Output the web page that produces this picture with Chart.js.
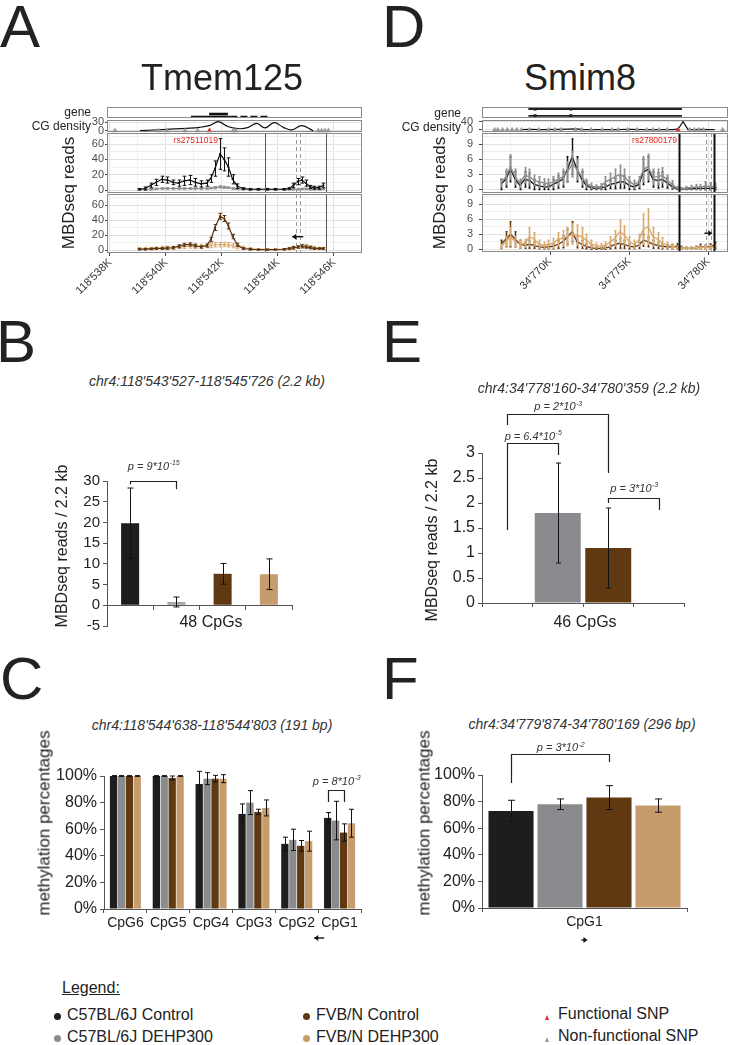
<!DOCTYPE html>
<html>
<head>
<meta charset="utf-8">
<title>Tmem125 / Smim8</title>
<script src="https://cdn.jsdelivr.net/npm/chart.js@4.4.1/dist/chart.umd.min.js"></script>
<style>
  html, body { margin: 0; padding: 0; background: #fff; }
  body { position: relative; width: 730px; height: 1045px; overflow: hidden;
         font-family: "Liberation Sans", Arial, Helvetica, sans-serif; color: #222; }
  canvas { position: absolute; }
  .t { position: absolute; white-space: nowrap; line-height: 1; }
</style>
</head>
<body>
<script>
// ---------------- data ----------------
const groups = ['C57BL/6J Control', 'C57BL/6J DEHP300', 'FVB/N Control', 'FVB/N DEHP300'];
const barColors = ['#1f1c1d', '#898b8e', '#603913', '#c69c6d'];
const trackColors = ['#111111', '#8e8e8e', '#5b3412', '#d9aa70'];
const snpLabels = ['Functional SNP', 'Non-functional SNP'];
const snpColors = ['#e3261f', '#9a9a9a'];

// A: Tmem125 MBDseq track (positions in kb, chr4:118'xxxK)
const tmPos = [539.05, 539.25, 539.45, 539.65, 539.85, 540.05, 540.25, 540.45, 540.65, 540.85,
  541.05, 541.25, 541.45, 541.6, 541.75, 541.93, 542.08, 542.23, 542.38, 542.55,
  542.75, 543.0, 543.3, 543.6, 543.9, 544.2, 544.4, 544.55, 544.7, 544.85,
  545.0, 545.15, 545.3, 545.45, 545.62];
const tmB6Ctrl = [1, 2, 6, 10, 14, 13, 10, 9, 12, 13, 10, 8, 9, 15, 28, 47, 40, 30, 14, 5,
  2, 1, 1, 1, 1, 1, 2, 6, 11, 13, 9, 4, 3, 3, 6];
const tmB6CtrlSd = [1, 2, 3, 4, 4, 4, 3, 4, 6, 6, 5, 4, 4, 5, 10, 20, 15, 12, 6, 3,
  1, 1, 1, 1, 1, 1, 1, 3, 4, 4, 4, 2, 2, 2, 3];
const tmB6Dehp = [1, 1, 1, 1.5, 2, 2, 2, 2, 2, 2, 2, 2, 2, 2.5, 3, 4, 3.5, 3, 2, 1.5,
  1, 1, 1, 1, 1, 1, 1, 1, 1, 1.5, 1.5, 1, 1, 1, 1.5];
const tmB6DehpSd = [1, 1, 1, 1, 1, 1, 1, 1, 1, 1, 1, 1, 1, 1, 1.5, 1.5, 1.5, 1, 1, 1,
  1, 1, 1, 1, 1, 1, 1, 1, 1, 1, 1, 1, 1, 1, 1];
const tmFvbCtrl = [1, 1, 1.5, 2, 2, 2.5, 3, 5, 7, 7.5, 6, 4, 6, 14, 30, 45, 42, 32, 18, 7,
  2, 1, 0.5, 0.5, 0.5, 1, 2, 3, 4, 5, 4, 3, 2, 2, 2];
const tmFvbCtrlSd = [1, 1, 1, 1, 1, 1.5, 1.5, 2, 2, 2, 2, 1.5, 2, 3, 4, 4, 4, 4, 3, 2,
  1, 1, 0.5, 0.5, 0.5, 1, 1, 1.5, 1.5, 2, 1.5, 1.5, 1, 1, 1];
const tmFvbDehp = [2, 2, 2, 2.5, 3, 3, 3, 4, 4.5, 5, 4.5, 5, 5.5, 6, 7, 7, 7.5, 7, 6, 4,
  3, 2, 1, 1, 1, 1, 2, 3, 4, 5, 5, 4, 3, 2, 2];
const tmFvbDehpSd = [1.5, 1.5, 1.5, 1.5, 2, 2, 2, 2, 2.5, 2.5, 2.5, 2.5, 2.5, 3, 3, 3, 3, 3, 3, 2.5,
  2, 1.5, 1, 1, 1, 1, 1.5, 2, 2, 2.5, 2.5, 2, 2, 1.5, 1.5];
const tmCgPos = [539.07, 540.02, 540.74, 541.2, 541.57, 541.87, 542.23, 542.64, 542.94, 543.24,
  543.54, 543.86, 544.19, 544.49, 544.85, 545.26];
const tmCg = [0, 5, 8.5, 12, 19, 32, 14, 7, 12, 26, 10, 29, 12, 3, 18, 0];
const tmSnps = [538.18, 539.73, 540.02, 540.68, 541.13, 542.4, 542.5, 545.44, 545.56, 545.68, 545.8];
const tmFuncSnp = [541.55];
const tmGeneSpan = [540.89, 542.3, 543.71];
const tmGeneExon = [541.54, 542.21];
const tmRegion = [543.527, 545.726];
const tmAmplicon = [544.638, 544.803];
const tmTickVals = [538, 540, 542, 544, 546];
const tmTickText = ["118'538K", "118'540K", "118'542K", "118'544K", "118'546K"];

// D: Smim8 MBDseq track (chr4:34'xxxK)
const smPos = [766.9, 767.2, 767.5, 767.8, 768.1, 768.4, 768.7, 769.0, 769.3, 769.6,
  769.9, 770.2, 770.5, 770.8, 771.1, 771.4, 771.7, 772.0, 772.3, 772.6,
  772.9, 773.2, 773.5, 773.8, 774.1, 774.4, 774.7, 775.0, 775.3, 775.6,
  775.9, 776.2, 776.5, 776.8, 777.1, 777.4, 777.7, 778.0, 778.3, 778.6,
  778.9, 779.2, 779.5, 779.8, 780.1, 780.4];
const smB6Ctrl = [1, 2, 4, 2, 0.8, 2, 1.8, 1, 0.7, 0.5, 0.5, 1, 1.5, 2, 4, 6.5, 4, 2, 0.8, 0.3,
  0.2, 0.3, 0.5, 1, 1.2, 1.5, 1.5, 0.8, 0.5, 1, 3.5, 4, 2, 1.8, 2, 1.3, 0.6, 0.1, 0.1, 0.1,
  0.1, 0.2, 0.2, 0.2, 0.2, 0.2];
const smB6CtrlSd = [1, 1.5, 2.5, 1.5, 0.8, 1.5, 1.5, 1, 0.7, 0.5, 0.5, 1, 1.2, 1.5, 2.5, 3.5, 2.5, 1.5, 0.8, 0.3,
  0.2, 0.3, 0.5, 0.8, 1, 1.2, 1.2, 0.8, 0.5, 0.8, 2.5, 2.5, 1.5, 1.5, 1.5, 1, 0.5, 0.1, 0.1, 0.1,
  0.1, 0.2, 0.2, 0.2, 0.2, 0.2];
const smB6Dehp = [1.3, 2.5, 4.5, 2.5, 1.2, 2.8, 2.5, 1.8, 1.5, 1.3, 1.2, 1.5, 2, 2.5, 3.5, 5, 4, 2.5, 1.2, 0.7,
  0.5, 0.6, 1.5, 2, 2.5, 3, 2.5, 1.5, 1, 1.5, 4, 4.5, 2.5, 2.5, 2.8, 1.8, 1, 0.3, 0.2, 0.3,
  0.4, 0.5, 0.5, 0.7, 0.6, 0.6];
const smB6DehpSd = [0.8, 1.5, 2.4, 1.5, 0.8, 1.5, 1.5, 1, 1, 0.8, 0.8, 1, 1.2, 1.5, 2, 2.5, 2, 1.5, 0.8, 0.5,
  0.4, 0.5, 1, 1.2, 1.5, 1.8, 1.5, 1, 0.8, 1, 2.5, 2.5, 1.5, 1.5, 1.5, 1, 0.7, 0.3, 0.2, 0.3,
  0.4, 0.5, 0.5, 0.8, 0.7, 0.6];
const smFvbCtrl = [1, 2, 3, 2, 1, 0.8, 1, 0.8, 0.5, 0.4, 0.5, 0.6, 1, 1.5, 2.5, 3.5, 1.5, 1, 0.6, 0.3,
  0.2, 0.2, 0.3, 0.5, 1, 1.2, 1, 0.6, 0.5, 0.8, 1.8, 1.5, 1, 0.8, 0.6, 0.5, 0.5, 0.6, 0.3, 0.2,
  0.2, 0.3, 0.5, 0.4, 0.6, 0.8];
const smFvbCtrlSd = [0.8, 1.5, 2.5, 1.5, 0.8, 0.6, 0.8, 0.6, 0.4, 0.3, 0.4, 0.5, 0.8, 1.2, 1.5, 2, 1.2, 0.8, 0.5, 0.3,
  0.2, 0.2, 0.3, 0.4, 0.8, 1, 0.8, 0.5, 0.4, 0.6, 1.2, 1, 0.8, 0.6, 0.5, 0.4, 0.4, 0.5, 0.3, 0.2,
  0.2, 0.3, 0.5, 0.4, 0.5, 0.6];
const smFvbDehp = [0.5, 1.5, 2.5, 1.5, 1, 1.2, 2.5, 2, 1, 0.8, 1, 1.2, 2, 2.2, 2.5, 3, 2.8, 2.5, 1.8, 1,
  0.7, 0.6, 0.8, 1.5, 2.2, 3.5, 2.8, 1.5, 1, 1.8, 4, 4.5, 2.5, 2, 1.3, 0.8, 0.6, 0.3, 0.2, 0.2,
  0.2, 0.3, 0.3, 0.4, 0.4, 0.5];
const smFvbDehpSd = [0.5, 1, 1.8, 1, 0.8, 0.8, 1.8, 1.3, 0.8, 0.6, 0.8, 1, 1.3, 1.5, 1.8, 2, 2, 1.8, 1.2, 0.8,
  0.5, 0.5, 0.6, 1, 1.5, 2.3, 1.8, 1, 0.8, 1.2, 3, 3.5, 1.8, 1.3, 1, 0.6, 0.5, 0.3, 0.2, 0.2,
  0.2, 0.3, 0.3, 0.4, 0.4, 0.4];
const smCgPos = [768.2, 768.7, 769.5, 770.5, 771.2, 771.6, 772.2, 773.0, 774.0, 775.0,
  776.0, 777.0, 777.8, 778.1, 778.4, 778.7, 779.0, 779.5, 780.0, 780.4];
const smCg = [1, 1.5, 1, 1.5, 3, 4, 1, 0.5, 1, 1.5, 1, 1, 0.5, 5, 40, 3, 1, 1.5, 0.5, 0.5];
const smSnps = [766.5, 766.7, 767.0, 767.3, 767.6, 767.9, 768.2, 768.7, 769.3, 769.9, 770.3, 770.7,
  771.6, 772.0, 772.6, 773.3, 773.9, 774.3, 774.9, 775.5, 776.1, 776.5, 776.9, 777.4,
  778.8, 779.1, 779.4, 779.7, 780.9];
const smFuncSnp = [778.08];
const smTranscript = [768.63, 778.33];
const smExons = [769.05, 771.31];
const smRegion = [778.160, 780.359];
const smAmplicon = [779.874, 780.169];
const smTickVals = [770, 775, 780];
const smTickText = ["34'770K", "34'775K", "34'780K"];

// B: MBDseq reads / 2.2 kb, Tmem125 region
const bVals = [19.8, 0.8, 7.6, 7.5];
const bSd = [8.5, 1.2, 2.5, 3.7];
const bTicks = [-5, 0, 5, 10, 15, 20, 25, 30];
const bBrackets = [{ from: 0, to: 1, top: 30, l: 29.2, r: 28, ty: 32.75, p: 'p = 9*10', e: '-15' }];

// E: MBDseq reads / 2.2 kb, Smim8 region
const eVals = [null, 1.8, 1.1, null];
const eSd = [null, 1.0, 0.8, null];
const eTicks = [0, 0.5, 1, 1.5, 2, 2.5, 3];
const eBrackets = [
  { from: 0, to: 1, top: 3.2, l: 1.46, r: 2.96, ty: 3.27, p: 'p = 6.4*10', e: '-5' },
  { from: 0, to: 2, top: 3.78, l: 3.56, r: 2.6, ty: 3.86, p: 'p = 2*10', e: '-3' },
  { from: 2, to: 3, top: 2.1, l: 2.0, r: 1.86, ty: 2.23, p: 'p = 3*10', e: '-3' }
];

// C: bisulfite methylation, Tmem125 amplicon
const cLabels = ['CpG6', 'CpG5', 'CpG4', 'CpG3', 'CpG2', 'CpG1'];
const cB6Ctrl = [100, 100, 94, 71.5, 49, 68.5];
const cB6CtrlSd = [0.3, 0.3, 9.5, 7.5, 5, 4];
const cB6Dehp = [100, 100, 98, 80, 52, 66.5];
const cB6DehpSd = [0.3, 0.3, 4.5, 9, 8, 14.5];
const cFvbCtrl = [100, 98.5, 98, 73, 47.5, 57.5];
const cFvbCtrlSd = [0.3, 1.5, 2.5, 2, 4, 6.5];
const cFvbDehp = [100, 100, 98, 76, 51, 64.5];
const cFvbDehpSd = [0.3, 0.3, 3, 6, 7.5, 10.5];
const cBrackets = [{ from: { ds: 0, i: 5 }, to: { ds: 2, i: 5 }, top: 89.5, l: 80.5, r: 80.5, ty: 93.5, p: 'p = 8*10', e: '-3' }];

// F: bisulfite methylation, Smim8 amplicon
const fLabels = ['CpG1'];
const fVals = [73, 78, 83, 77];
const fSd = [8, 4, 9, 5];
const fBrackets = [{ from: { ds: 0, i: 0 }, to: { ds: 2, i: 0 }, top: 115.8, l: 94, r: 109.8, ty: 117.8, p: 'p = 3*10', e: '-2' }];
const pctTicks = [0, 20, 40, 60, 80, 100];

// ---------------- helpers ----------------
const FONT = '"Liberation Sans", Arial, Helvetica, sans-serif';
const NARROW = '"Liberation Sans Narrow", "Arial Narrow", "Liberation Sans", Arial, sans-serif';
Chart.defaults.font.family = FONT;
Chart.defaults.color = '#222';
Chart.defaults.animation = false;

function canvasAt(x, y, w, h) {
  const c = document.createElement('canvas');
  c.width = w; c.height = h;
  c.style.left = x + 'px'; c.style.top = y + 'px';
  c.style.width = w + 'px'; c.style.height = h + 'px';
  document.body.appendChild(c);
  return c;
}
function txt(s, x, base, size, o = {}) {
  const d = document.createElement('div');
  d.className = 't';
  d.textContent = s;
  d.style.fontSize = size + 'px';
  d.style.left = x + 'px';
  d.style.top = (base - 0.8465 * size) + 'px';
  if (o.align === 'center') d.style.transform = 'translateX(-50%)';
  if (o.align === 'right') d.style.transform = 'translateX(-100%)';
  if (o.italic) d.style.fontStyle = 'italic';
  if (o.color) d.style.color = o.color;
  if (o.underline) d.style.textDecoration = 'underline';
  if (o.family) d.style.fontFamily = o.family;
  document.body.appendChild(d);
  return d;
}
function vtxt(s, cx, cy, size, o = {}) {
  const d = txt(s, cx, 0, size, o);
  d.style.top = cy + 'px';
  d.style.transform = 'translate(-50%,-50%) rotate(-90deg)';
  return d;
}
const noPad = s => { s.paddingTop = s.paddingBottom = s.paddingLeft = s.paddingRight = 0; };
const fixW = w => s => { s.width = w; noPad(s); };
const fixH = h => s => { s.height = h; noPad(s); };
const setTicks = vals => s => { if (vals) s.ticks = vals.map(v => ({ value: v })); };
const pts = (xs, ys) => xs.map((x, i) => ({ x, y: ys[i] }));

function drawArrow(ctx, cx, cy, dir, len) {
  const h = len / 2, tip = cx + dir * h;
  ctx.save();
  ctx.strokeStyle = '#111'; ctx.fillStyle = '#111'; ctx.lineWidth = 1.4;
  ctx.beginPath(); ctx.moveTo(cx - h, cy); ctx.lineTo(cx + h - dir * 2, cy); ctx.stroke();
  ctx.beginPath(); ctx.moveTo(tip, cy); ctx.lineTo(tip - dir * 4, cy - 3); ctx.lineTo(tip - dir * 4, cy + 3);
  ctx.closePath(); ctx.fill();
  ctx.restore();
}
function pText(ctx, cx, base, main, sup) {
  ctx.fillStyle = '#333'; ctx.textAlign = 'left'; ctx.textBaseline = 'alphabetic';
  ctx.font = 'italic 11px ' + FONT;
  const w1 = ctx.measureText(main).width;
  ctx.font = 'italic 7px ' + FONT;
  const w2 = ctx.measureText(sup).width;
  const x0 = cx - (w1 + w2) / 2;
  ctx.font = 'italic 11px ' + FONT; ctx.fillText(main, x0, base);
  ctx.font = 'italic 7px ' + FONT; ctx.fillText(sup, x0 + w1 + 0.5, base - 4.5);
}

// error bars, drawn right after each dataset
const errPlugin = {
  id: 'errbars',
  afterDatasetDraw(chart, args) {
    const ds = chart.data.datasets[args.index];
    if (!ds.errs) return;
    const { ctx, chartArea: a } = chart;
    const y = chart.scales.y;
    ctx.save();
    if (ds.errClip) { ctx.beginPath(); ctx.rect(a.left, a.top, a.width, a.height); ctx.clip(); }
    ctx.strokeStyle = ds.errColor; ctx.lineWidth = ds.errWidth || 1;
    const cap = ds.errCap || 0;
    args.meta.data.forEach((el, i) => {
      const d = ds.data[i];
      const v = d !== null && typeof d === 'object' ? d.y : d;
      const e = ds.errs[i];
      if (v == null || e == null) return;
      const x = Math.round(el.x) + 0.5;
      const y1 = y.getPixelForValue(v - e), y2 = y.getPixelForValue(v + e);
      ctx.beginPath();
      ctx.moveTo(x, y1); ctx.lineTo(x, y2);
      if (cap) {
        ctx.moveTo(x - cap, y1); ctx.lineTo(x + cap, y1);
        ctx.moveTo(x - cap, y2); ctx.lineTo(x + cap, y2);
      }
      ctx.stroke();
    });
    ctx.restore();
  }
};
// significance brackets
function bracketPlugin(items) {
  return {
    id: 'brackets',
    afterDraw(chart) {
      const { ctx } = chart;
      const y = chart.scales.y;
      const xOf = r => typeof r === 'number' ? chart.scales.x.getPixelForValue(r)
                                             : chart.getDatasetMeta(r.ds).data[r.i].x;
      ctx.save();
      ctx.strokeStyle = '#222'; ctx.lineWidth = 1.2;
      items.forEach(b => {
        const x1 = Math.round(xOf(b.from)) + 0.5, x2 = Math.round(xOf(b.to)) + 0.5;
        const yt = Math.round(y.getPixelForValue(b.top)) + 0.5;
        ctx.beginPath();
        ctx.moveTo(x1, y.getPixelForValue(b.l)); ctx.lineTo(x1, yt);
        ctx.lineTo(x2, yt); ctx.lineTo(x2, y.getPixelForValue(b.r));
        ctx.stroke();
        pText(ctx, (x1 + x2) / 2, y.getPixelForValue(b.ty), b.p, b.e);
      });
      ctx.restore();
    }
  };
}
// arrows under category axis
function arrowPlugin(items) {
  return {
    id: 'arrows',
    afterDraw(chart) {
      const a = chart.chartArea;
      items.forEach(it => drawArrow(chart.ctx, chart.scales.x.getPixelForValue(it.x), a.bottom + it.dy, it.dir, it.len));
    }
  };
}
// region lines + strand arrow inside track panels
function markPlugin(lines, arrows) {
  return {
    id: 'marks',
    afterDatasetsDraw(chart) {
      const { ctx, chartArea: a, scales: { x, y } } = chart;
      ctx.save();
      lines.forEach(l => {
        const px = Math.round(x.getPixelForValue(l.x)) + 0.5;
        ctx.strokeStyle = l.color; ctx.lineWidth = l.w; ctx.setLineDash(l.dash || []);
        ctx.beginPath(); ctx.moveTo(px, a.top); ctx.lineTo(px, a.bottom); ctx.stroke();
      });
      ctx.setLineDash([]);
      ctx.restore();
      arrows.forEach(ar => drawArrow(ctx, x.getPixelForValue(ar.x), y.getPixelForValue(ar.y), ar.dir, ar.len));
    }
  };
}
const framePlugin = {
  id: 'frame',
  afterDraw(chart) {
    const { ctx, chartArea: a } = chart;
    ctx.save();
    ctx.strokeStyle = '#8a8a8a'; ctx.lineWidth = 1;
    ctx.strokeRect(Math.round(a.left) + 0.5, Math.round(a.top) + 0.5, Math.round(a.width) - 1, Math.round(a.height) - 1);
    ctx.restore();
  }
};

function series(xs, ys, sd, color, o = {}) {
  return {
    data: pts(xs, ys), errs: sd, errColor: o.errColor || color, errWidth: o.errWidth || 1,
    errCap: o.cap || 0, errClip: true,
    borderColor: color, backgroundColor: color, borderWidth: o.lw || 1.2,
    pointRadius: o.pr || 0, pointStyle: 'rect', pointBorderWidth: 0, tension: 0
  };
}
function snpSet(xs, color, r) {
  return { data: xs.map(x => ({ x, y: 0 })), showLine: false, pointStyle: 'triangle', pointRadius: r,
           backgroundColor: color, borderColor: color, pointBorderWidth: 0, clip: false };
}

// box = [canvasLeft, areaTop, canvasWidth, areaHeight]; 6px spare above/below the area for tick labels
function trackChart(box, o) {
  const major = v => (o.yMajor || []).includes(v);
  const xMajor = v => (o.xMajor || []).includes(v);
  const padT = o.bare ? 0 : 6, padB = o.bare ? 0 : (o.xH ? 0 : 6);
  const [cx, top, w, h] = box;
  return new Chart(canvasAt(cx, top - padT, w, h + padT + padB + (o.xH || 0)), {
    type: 'line',
    data: { datasets: o.datasets },
    options: {
      responsive: false, animation: false, devicePixelRatio: 1,
      layout: { autoPadding: false, padding: { left: o.padL || 0, top: padT, right: 0, bottom: padB } },
      plugins: { legend: { display: false }, tooltip: { enabled: false } },
      scales: {
        x: {
          type: 'linear', min: o.xMin, max: o.xMax, bounds: 'data', display: !o.bare,
          afterBuildTicks: setTicks(o.xGrid), afterFit: fixH(o.xH || 0),
          border: { display: false },
          grid: {
            color: c => xMajor(c.tick.value) ? '#e1e1e1' : '#efefef',
            drawTicks: !!o.xLabels, tickLength: 3,
            tickColor: c => xMajor(c.tick.value) ? '#444' : 'rgba(0,0,0,0)'
          },
          ticks: {
            display: !!o.xLabels, autoSkip: false, minRotation: 45, maxRotation: 45, padding: 0,
            font: { size: 11 }, color: '#333',
            callback: v => { if (!o.xLabels) return ''; const i = o.xLabels[0].indexOf(v); return i < 0 ? '' : o.xLabels[1][i]; }
          }
        },
        y: {
          type: 'linear', min: o.yMin, max: o.yMax, bounds: 'data', display: !o.bare,
          afterBuildTicks: setTicks(o.yGrid), afterFit: fixW(o.yW || 0),
          border: { display: false },
          grid: {
            color: c => major(c.tick.value) ? '#e1e1e1' : '#efefef',
            tickLength: o.yTL || 2,
            tickColor: c => major(c.tick.value) ? '#444' : 'rgba(0,0,0,0)'
          },
          ticks: { autoSkip: false, padding: o.yPad || 1, font: { size: 11 }, color: '#4d4d4d',
                   callback: v => major(v) ? String(v) : '' }
        }
      }
    },
    plugins: [errPlugin, markPlugin(o.lines || [], o.arrows || []), framePlugin]
  });
}

function barChart(box, o) {
  return new Chart(canvasAt(...box), {
    type: 'bar',
    data: { labels: o.labels, datasets: o.datasets },
    options: {
      responsive: false, animation: false, devicePixelRatio: 1,
      layout: { autoPadding: false, padding: o.pad },
      plugins: { legend: { display: false }, tooltip: { enabled: false } },
      scales: {
        x: {
          position: o.xAt != null ? { y: o.xAt } : 'bottom',
          afterFit: fixH(o.xH),
          grid: { drawOnChartArea: false, tickLength: 4, color: '#555', offset: true },
          border: { color: '#555' },
          ticks: { display: !!o.showX, font: { size: 14 }, color: '#222', padding: 2 }
        },
        y: {
          min: o.yMin, max: o.yMax, bounds: 'data',
          afterBuildTicks: setTicks(o.yTicks), afterFit: fixW(o.yW),
          grid: { drawOnChartArea: false, tickLength: 4, color: '#555' },
          border: { color: '#555' },
          ticks: { autoSkip: false, font: { size: o.yFont || 15 }, color: '#222', padding: 3,
                   callback: o.yFmt || (v => String(v)) }
        }
      }
    },
    plugins: [errPlugin, bracketPlugin(o.brackets || []), arrowPlugin(o.arrows || [])]
  });
}

// ---------------- panel A : Tmem125 ----------------
const tmX = { xMin: 537.893, xMax: 547.0, xGrid: [538, 539, 540, 541, 542, 543, 544, 545, 546, 547], xMajor: tmTickVals };
const tmLines = [
  { x: tmRegion[0], color: '#555', w: 1 }, { x: tmRegion[1], color: '#555', w: 1 },
  { x: tmAmplicon[0], color: '#999', w: 1, dash: [4, 3] }, { x: tmAmplicon[1], color: '#999', w: 1, dash: [4, 3] }
];
trackChart([107, 107, 255, 11], Object.assign({}, tmX, {
  bare: true, yMin: 0, yMax: 1,
  datasets: [
    { data: [{ x: tmGeneSpan[0], y: 0.15 }, { x: tmGeneSpan[1], y: 0.15 }], borderColor: '#111', borderWidth: 1.3, pointRadius: 0 },
    { data: [{ x: tmGeneSpan[1], y: 0.15 }, { x: tmGeneSpan[2], y: 0.15 }], borderColor: '#111', borderWidth: 1.3, borderDash: [7, 3], pointRadius: 0 },
    { data: [{ x: tmGeneExon[0], y: 0.36 }, { x: tmGeneExon[1], y: 0.36 }], borderColor: '#111', borderWidth: 2.6, pointRadius: 0 }
  ]
}));
trackChart([87, 120, 275, 12], Object.assign({}, tmX, {
  yMin: -4.6, yMax: 38, yGrid: [0, 30], yMajor: [0, 30], yW: 20, yTL: 2, yPad: 1,
  datasets: [
    snpSet(tmFuncSnp, snpColors[0], 3.2),
    snpSet(tmSnps, snpColors[1], 3.2),
    { data: pts(tmCgPos, tmCg), borderColor: '#111', borderWidth: 1.2, tension: 0.4, pointRadius: 0 }
  ]
}));
trackChart([87, 133, 275, 60], Object.assign({}, tmX, {
  yMin: -3.9, yMax: 74.4, yGrid: [0, 10, 20, 30, 40, 50, 60, 70], yMajor: [0, 20, 40, 60], yW: 20, yTL: 2, yPad: 1,
  lines: tmLines,
  datasets: [
    series(tmPos, tmB6Ctrl, tmB6CtrlSd, trackColors[0], { pr: 1.3, cap: 1.8 }),
    series(tmPos, tmB6Dehp, tmB6DehpSd, trackColors[1], { pr: 1.3, cap: 1.8 })
  ]
}));
trackChart([60, 194, 302, 59], Object.assign({}, tmX, {
  padL: 27, xH: 45, xLabels: [tmTickVals, tmTickText],
  yMin: -4, yMax: 74.7, yGrid: [0, 10, 20, 30, 40, 50, 60, 70], yMajor: [0, 20, 40, 60], yW: 20, yTL: 2, yPad: 1,
  lines: tmLines, arrows: [{ x: 544.67, y: 17.7, dir: -1, len: 9 }],
  datasets: [
    series(tmPos, tmFvbCtrl, tmFvbCtrlSd, trackColors[2], { pr: 1.3, cap: 1.8 }),
    series(tmPos, tmFvbDehp, tmFvbDehpSd, trackColors[3], { pr: 1.3, cap: 1.8 })
  ]
}));

// ---------------- panel D : Smim8 ----------------
const smX = { xMin: 765.70, xMax: 781.24, xGrid: [767.5, 770, 772.5, 775, 777.5, 780], xMajor: smTickVals };
const smLines = [
  { x: smRegion[0], color: '#111', w: 2 }, { x: smRegion[1], color: '#111', w: 2 },
  { x: smAmplicon[0], color: '#999', w: 1, dash: [4, 3] }, { x: smAmplicon[1], color: '#999', w: 1, dash: [4, 3] }
];
const smGeneRow = r => ({
  data: [smTranscript[0], smExons[0], smExons[1], smTranscript[1]].map(x => ({ x, y: r })),
  borderColor: '#222', backgroundColor: '#222', borderWidth: 1.8,
  pointRadius: [0, 2.2, 2.2, 0], pointStyle: 'rect', pointBorderWidth: 0
});
trackChart([482, 107, 246, 11], Object.assign({}, smX, {
  bare: true, yMin: 0, yMax: 1, datasets: [smGeneRow(0.82), smGeneRow(0.2)]
}));
trackChart([458, 120, 270, 12], Object.assign({}, smX, {
  yMin: -11, yMax: 48.2, yGrid: [0, 40], yMajor: [0, 40], yW: 24, yTL: 3, yPad: 6,
  datasets: [
    snpSet(smFuncSnp, snpColors[0], 3),
    snpSet(smSnps, snpColors[1], 3),
    { data: pts(smCgPos, smCg), borderColor: '#111', borderWidth: 1.2, tension: 0, pointRadius: 0 }
  ]
}));
trackChart([458, 133, 270, 60], Object.assign({}, smX, {
  yMin: -0.7, yMax: 11.2, yGrid: [0, 1.5, 3, 4.5, 6, 7.5, 9, 10.5], yMajor: [0, 3, 6, 9], yW: 24, yTL: 3, yPad: 6,
  lines: smLines,
  datasets: [
    series(smPos, smB6Dehp, smB6DehpSd, trackColors[1], { lw: 1.4, errWidth: 1.6, cap: 1 }),
    series(smPos, smB6Ctrl, smB6CtrlSd, trackColors[0], { lw: 1.3, errWidth: 1.4, cap: 1 })
  ]
}));
trackChart([458, 194, 270, 58], Object.assign({}, smX, {
  xH: 45, xLabels: [smTickVals, smTickText],
  yMin: -0.54, yMax: 11.0, yGrid: [0, 1.5, 3, 4.5, 6, 7.5, 9, 10.5], yMajor: [0, 3, 6, 9], yW: 24, yTL: 3, yPad: 6,
  lines: smLines, arrows: [{ x: 780.0, y: 3.2, dir: 1, len: 8 }],
  datasets: [
    series(smPos, smFvbDehp, smFvbDehpSd, trackColors[3], { lw: 1.4, errWidth: 1.6, cap: 1 }),
    series(smPos, smFvbCtrl, smFvbCtrlSd, trackColors[2], { lw: 1.3, errWidth: 1.4, cap: 1 })
  ]
}));

// ---------------- panel B ----------------
barChart([40, 455, 257, 177], {
  labels: groups, pad: { top: 26, right: 5, left: 0, bottom: 6 }, xAt: 0, xH: 5,
  yMin: -5, yMax: 30, yTicks: bTicks, yW: 67, yFont: 15,
  brackets: bBrackets,
  datasets: [{
    data: bVals, errs: bSd, errColor: '#111', errCap: 3,
    backgroundColor: [barColors[0], '#a4a6a9', barColors[2], barColors[3]],
    barPercentage: 0.39, categoryPercentage: 1
  }]
});

// ---------------- panel E ----------------
barChart([405, 395, 285, 219], {
  labels: groups, pad: { top: 58, right: 6, left: 0, bottom: 6 }, xH: 5,
  yMin: 0, yMax: 3, yTicks: eTicks, yW: 77, yFont: 16,
  brackets: eBrackets,
  datasets: [{
    data: eVals, errs: eSd, errColor: '#111', errCap: 2.5,
    backgroundColor: barColors, barPercentage: 0.91, categoryPercentage: 1
  }]
});

// ---------------- panel C ----------------
const cSeries = [[cB6Ctrl, cB6CtrlSd], [cB6Dehp, cB6DehpSd], [cFvbCtrl, cFvbCtrlSd], [cFvbDehp, cFvbDehpSd]];
barChart([30, 760, 335, 190], {
  labels: cLabels, showX: true, pad: { top: 16, right: 4, left: 0, bottom: 0 }, xH: 41,
  yMin: 0, yMax: 100, yTicks: pctTicks, yW: 74, yFont: 16, yFmt: v => v + '%',
  brackets: cBrackets, arrows: [{ x: 4.5, dy: 29, dir: -1, len: 8 }],
  datasets: cSeries.map((s, i) => ({
    data: s[0], errs: s[1], errColor: '#111', errCap: 2.5,
    backgroundColor: barColors[i], barPercentage: 0.92, categoryPercentage: 0.74
  }))
});

// ---------------- panel F ----------------
barChart([395, 735, 297, 215], {
  labels: fLabels, showX: true, pad: { top: 40, right: 5, left: 0, bottom: 0 }, xH: 42,
  yMin: 0, yMax: 100, yTicks: pctTicks, yW: 87, yFont: 16, yFmt: v => v + '%',
  brackets: fBrackets, arrows: [{ x: 0, dy: 32, dir: 1, len: 6 }],
  datasets: fVals.map((v, i) => ({
    data: [v], errs: [fSd[i]], errColor: '#111', errCap: 3.5,
    backgroundColor: barColors[i], barPercentage: 0.92, categoryPercentage: 0.956
  }))
});

// ---------------- text ----------------
txt('A', 0, 48, 60);
txt('D', 382, 48, 60);
txt('B', -4, 363, 60);
txt('E', 382, 363, 60);
txt('C', 0, 700, 60);
txt('F', 382, 700, 60);
txt('Tmem125', 222, 90, 36, { align: 'center' });
txt('Smim8', 580, 90, 36, { align: 'center' });
txt('gene', 91, 116, 12, { align: 'right' });
txt('CG density', 91, 130, 12, { align: 'right' });
txt('gene', 461, 117, 12, { align: 'right' });
txt('CG density', 461, 131, 12, { align: 'right' });
txt('rs27511019', 218, 143, 8.5, { align: 'right', color: '#e3261f' });
txt('rs27800179', 677, 143, 8.5, { align: 'right', color: '#e3261f' });
vtxt('MBDseq reads', 68, 193, 17);
vtxt('MBDseq reads', 439, 193, 17);
vtxt('MBDseq reads / 2.2 kb', 62, 546, 16, { family: NARROW });
vtxt('MBDseq reads / 2.2 kb', 432, 540, 16, { family: NARROW });
vtxt('methylation percentages', 44, 823, 17);
vtxt('methylation percentages', 424, 823, 17);
txt("chr4:118'543'527-118'545'726 (2.2 kb)", 207, 386, 14, { align: 'center', italic: true, color: '#333' });
txt("chr4:34'778'160-34'780'359 (2.2 kb)", 589, 393, 14, { align: 'center', italic: true, color: '#333' });
txt("chr4:118'544'638-118'544'803 (191 bp)", 212, 730, 14, { align: 'center', italic: true, color: '#333' });
txt("chr4:34'779'874-34'780'169 (296 bp)", 582, 729, 14, { align: 'center', italic: true, color: '#333' });
txt('48 CpGs', 211, 628, 16, { align: 'center' });
txt('46 CpGs', 585, 628, 16, { align: 'center' });

// legend
txt('Legend:', 62, 994, 16, { underline: true });
const legPos = [[57, 1016], [57, 1038], [306, 1016], [306, 1038]];
groups.forEach((g, i) => {
  const [cx, cy] = legPos[i];
  const dot = document.createElement('div');
  dot.style.cssText = `position:absolute;left:${cx - 3.5}px;top:${cy - 3.5}px;width:7px;height:7px;border-radius:50%;background:${barColors[i]}`;
  document.body.appendChild(dot);
  txt(g, cx + 10, cy + 4.5, 16);
});
snpLabels.forEach((s, i) => {
  const cy = 1017 + i * 22;
  const tri = document.createElement('div');
  tri.style.cssText = `position:absolute;left:545px;top:${cy - 2.5}px;width:0;height:0;border-left:2.5px solid transparent;border-right:2.5px solid transparent;border-bottom:5px solid ${snpColors[i]}`;
  document.body.appendChild(tri);
  txt(s, 558, cy + 3, 16);
});
</script>
</body>
</html>
